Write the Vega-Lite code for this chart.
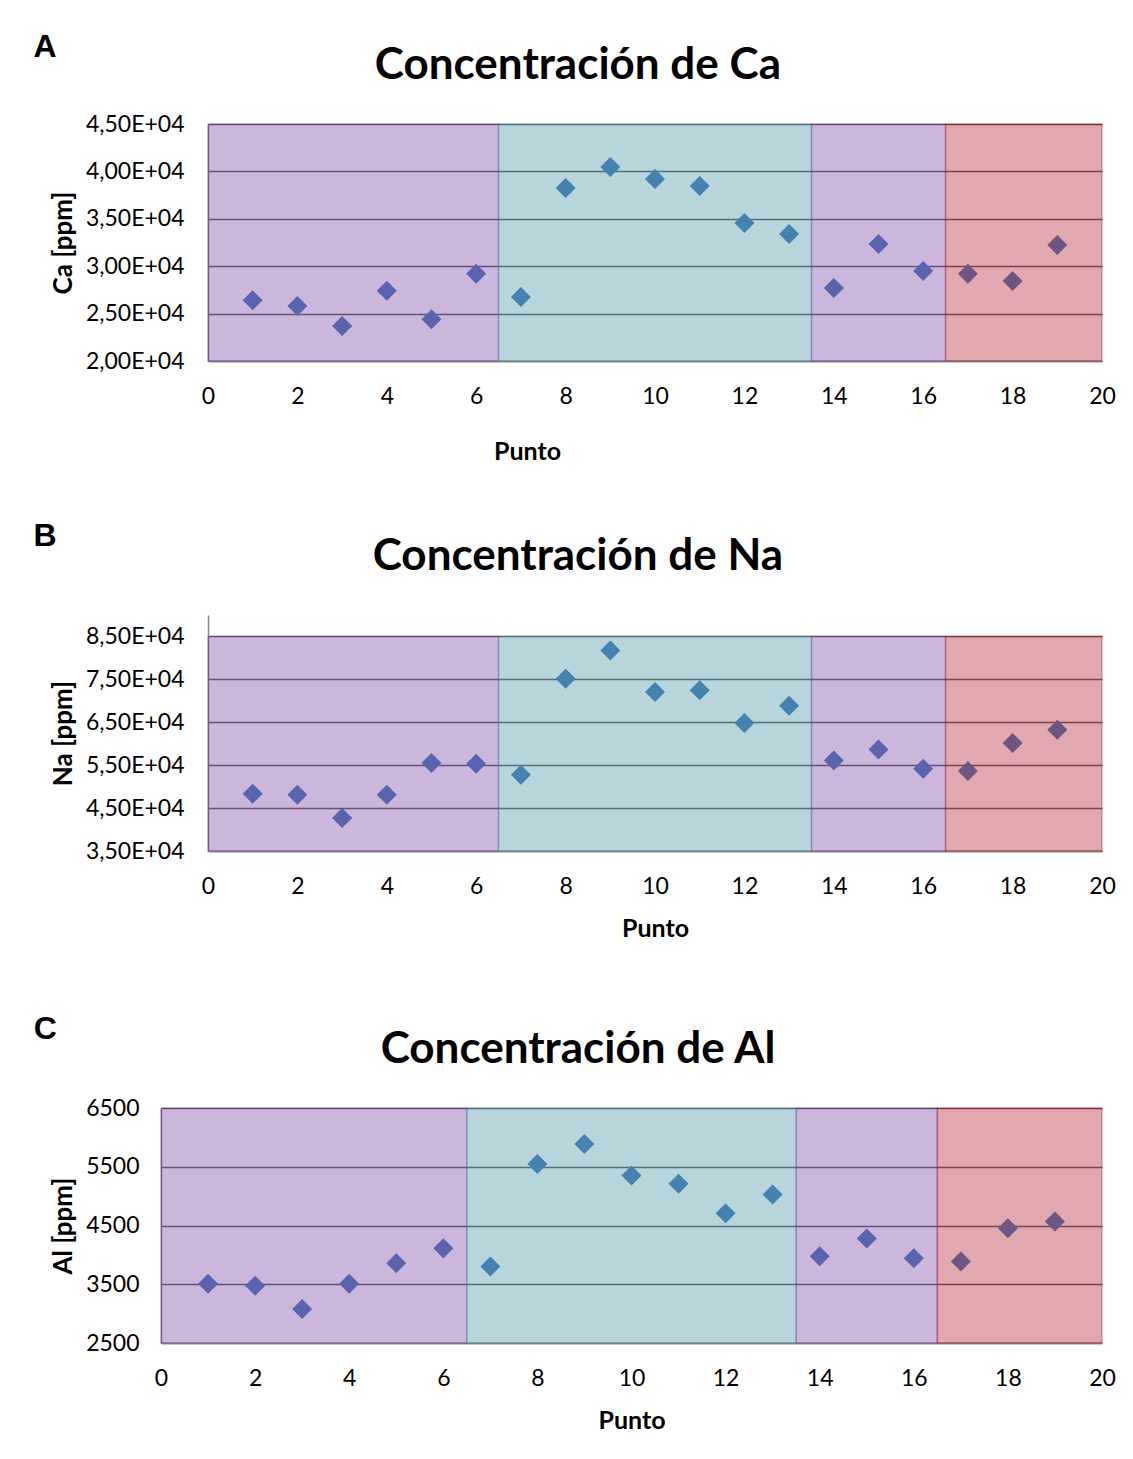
{
  "$schema": "https://vega.github.io/schema/vega-lite/v6.json",
  "padding": {"top": 31, "left": 32, "right": 0, "bottom": 0},
  "background": "white",
  "config": {
    "view": {"stroke": null},
    "font": "Lato",
    "axis": {
      "labelFont": "Lato", "labelFontSize": 23, "labelColor": "#000000",
      "titleFont": "Lato", "titleFontSize": 25, "titleFontWeight": "bold", "titleColor": "#000000",
      "ticks": false, "domainColor": "#868686", "domainWidth": 1.5,
      "gridColor": "#666666", "gridWidth": 1.6, "labelOverlap": false, "labelFlush": false
    },
    "axisX": {"grid": false, "labelPadding": 24, "titlePadding": 18},
    "axisY": {"grid": true, "labelPadding": 24, "titlePadding": 9, "titleFontSize": 26}
  },
  "datasets": {
    "puntos": [
      {"punto": 1, "ca": 26400, "na": 48370, "al": 3509},
      {"punto": 2, "ca": 25800, "na": 48130, "al": 3475},
      {"punto": 3, "ca": 23700, "na": 42690, "al": 3078},
      {"punto": 4, "ca": 27400, "na": 48130, "al": 3509},
      {"punto": 5, "ca": 24400, "na": 55490, "al": 3859},
      {"punto": 6, "ca": 29200, "na": 55350, "al": 4114},
      {"punto": 7, "ca": 26750, "na": 52790, "al": 3803},
      {"punto": 8, "ca": 38250, "na": 75150, "al": 5548},
      {"punto": 9, "ca": 40460, "na": 81740, "al": 5888},
      {"punto": 10, "ca": 39200, "na": 72030, "al": 5350},
      {"punto": 11, "ca": 38460, "na": 72490, "al": 5209},
      {"punto": 12, "ca": 34560, "na": 64810, "al": 4709},
      {"punto": 13, "ca": 33400, "na": 68860, "al": 5027},
      {"punto": 14, "ca": 27700, "na": 56120, "al": 3978},
      {"punto": 15, "ca": 32340, "na": 58680, "al": 4279},
      {"punto": 16, "ca": 29500, "na": 54190, "al": 3944},
      {"punto": 17, "ca": 29200, "na": 53630, "al": 3888},
      {"punto": 18, "ca": 28440, "na": 60150, "al": 4454},
      {"punto": 19, "ca": 32240, "na": 63270, "al": 4568}
    ],
    "zonas": [
      {"desde": 0, "hasta": 6.5, "zona": "a"},
      {"desde": 6.5, "hasta": 13.5, "zona": "b"},
      {"desde": 13.5, "hasta": 16.5, "zona": "a"},
      {"desde": 16.5, "hasta": 20, "zona": "c"}
    ],
    "vacio": [{"v": ""}]
  },
  "spacing": 72,
  "vconcat": [
    {
      "spacing": 56,
      "vconcat": [
        {
          "spacing": 0,
          "hconcat": [
            {"data": {"name": "vacio"}, "width": 1, "height": 1, "mark": {"type": "text", "text": ""}, "encoding": {}},
            {
              "title": {"text": "A", "font": "Liberation Sans", "fontSize": 32, "fontWeight": "bold", "color": "#000000", "anchor": "start", "frame": "bounds", "offset": -20, "dx": -17},
              "vconcat": [
                {
                  "title": {"text": "Concentración de Ca", "font": "Lato", "fontSize": 44, "fontWeight": "bold", "color": "#000000", "anchor": "middle", "frame": "bounds", "offset": 25, "dx": -5},
                  "width": 894, "height": 237,
                  "layer": [
                    {
                      "data": {"name": "puntos"},
                      "mark": {"type": "point", "shape": "diamond", "filled": true, "size": 400, "color": "#4F81BD", "opacity": 1, "strokeWidth": 0},
                      "encoding": {
                        "x": {"field": "punto", "type": "quantitative", "title": "Punto", "scale": {"domain": [0, 20], "nice": false}, "axis": {"values": [0, 2, 4, 6, 8, 10, 12, 14, 16, 18, 20], "titleX": 319, "titlePadding": 31}},
                        "y": {"field": "ca", "type": "quantitative", "title": "Ca [ppm]", "scale": {"domain": [20000, 45000], "nice": false, "zero": false}, "axis": {"values": [20000, 25000, 30000, 35000, 40000, 45000], "labelExpr": "replace(format(datum.value / 10000, '.2f'), '.', ',') + 'E+04'"}}
                      }
                    },
                    {
                      "data": {"name": "zonas"},
                      "mark": {"type": "rect", "fillOpacity": 0.34, "strokeOpacity": 0.3, "strokeWidth": 1.5},
                      "encoding": {
                        "x": {"field": "desde", "type": "quantitative", "title": "Punto"},
                        "x2": {"field": "hasta"},
                        "y": {"datum": 20000, "type": "quantitative", "title": "Ca [ppm]"},
                        "y2": {"datum": 45000},
                        "fill": {"field": "zona", "type": "nominal", "scale": {"domain": ["a", "b", "c"], "range": ["#6C2898", "#2E8398", "#A70017"]}, "legend": null},
                        "stroke": {"field": "zona", "type": "nominal", "scale": {"domain": ["a", "b", "c"], "range": ["#6C2898", "#2E8398", "#A70017"]}, "legend": null}
                      }
                    }
                  ]
                }
              ]
            }
          ]
        },
        {
          "spacing": 0,
          "hconcat": [
            {"data": {"name": "vacio"}, "width": 1, "height": 1, "mark": {"type": "text", "text": ""}, "encoding": {}},
            {
              "title": {"text": "B", "font": "Liberation Sans", "fontSize": 32, "fontWeight": "bold", "color": "#000000", "anchor": "start", "frame": "bounds", "offset": -18, "dx": -17},
              "vconcat": [
                {
                  "title": {"text": "Concentración de Na", "font": "Lato", "fontSize": 44, "fontWeight": "bold", "color": "#000000", "anchor": "middle", "frame": "bounds", "offset": 36, "dx": -5},
                  "width": 894, "height": 236,
                  "layer": [
                    {
                      "data": {"name": "puntos"},
                      "mark": {"type": "point", "shape": "diamond", "filled": true, "size": 400, "color": "#4F81BD", "opacity": 1, "strokeWidth": 0},
                      "encoding": {
                        "x": {"field": "punto", "type": "quantitative", "title": "Punto", "scale": {"domain": [0, 20], "nice": false}, "axis": {"values": [0, 2, 4, 6, 8, 10, 12, 14, 16, 18, 20]}},
                        "y": {"field": "na", "type": "quantitative", "title": "Na [ppm]", "scale": {"domain": [35000, 90000], "nice": false, "zero": false}, "axis": {"values": [35000, 45000, 55000, 65000, 75000, 85000], "labelExpr": "replace(format(datum.value / 10000, '.2f'), '.', ',') + 'E+04'"}}
                      }
                    },
                    {
                      "data": {"name": "zonas"},
                      "mark": {"type": "rect", "fillOpacity": 0.34, "strokeOpacity": 0.3, "strokeWidth": 1.5},
                      "encoding": {
                        "x": {"field": "desde", "type": "quantitative", "title": "Punto"},
                        "x2": {"field": "hasta"},
                        "y": {"datum": 35000, "type": "quantitative", "title": "Na [ppm]"},
                        "y2": {"datum": 85000},
                        "fill": {"field": "zona", "type": "nominal", "scale": {"domain": ["a", "b", "c"], "range": ["#6C2898", "#2E8398", "#A70017"]}, "legend": null},
                        "stroke": {"field": "zona", "type": "nominal", "scale": {"domain": ["a", "b", "c"], "range": ["#6C2898", "#2E8398", "#A70017"]}, "legend": null}
                      }
                    }
                  ]
                }
              ]
            }
          ]
        }
      ]
    },
    {
      "spacing": 0,
      "hconcat": [
        {"data": {"name": "vacio"}, "width": 1, "height": 1, "mark": {"type": "text", "text": ""}, "encoding": {}},
        {
          "title": {"text": "C", "font": "Liberation Sans", "fontSize": 32, "fontWeight": "bold", "color": "#000000", "anchor": "start", "frame": "bounds", "offset": -18, "dx": -17},
          "vconcat": [
            {
              "title": {"text": "Concentración de Al", "font": "Lato", "fontSize": 44, "fontWeight": "bold", "color": "#000000", "anchor": "middle", "frame": "bounds", "offset": 25, "dx": -5},
              "width": 941, "height": 235,
              "layer": [
                {
                  "data": {"name": "puntos"},
                  "mark": {"type": "point", "shape": "diamond", "filled": true, "size": 400, "color": "#4F81BD", "opacity": 1, "strokeWidth": 0},
                  "encoding": {
                    "x": {"field": "punto", "type": "quantitative", "title": "Punto", "scale": {"domain": [0, 20], "nice": false}, "axis": {"values": [0, 2, 4, 6, 8, 10, 12, 14, 16, 18, 20]}},
                    "y": {"field": "al", "type": "quantitative", "title": "Al [ppm]", "scale": {"domain": [2500, 6500], "nice": false, "zero": false}, "axis": {"values": [2500, 3500, 4500, 5500, 6500], "format": "d", "labelPadding": 22}}
                  }
                },
                {
                  "data": {"name": "zonas"},
                  "mark": {"type": "rect", "fillOpacity": 0.34, "strokeOpacity": 0.3, "strokeWidth": 1.5},
                  "encoding": {
                    "x": {"field": "desde", "type": "quantitative", "title": "Punto"},
                    "x2": {"field": "hasta"},
                    "y": {"datum": 2500, "type": "quantitative", "title": "Al [ppm]"},
                    "y2": {"datum": 6500},
                    "fill": {"field": "zona", "type": "nominal", "scale": {"domain": ["a", "b", "c"], "range": ["#6C2898", "#2E8398", "#A70017"]}, "legend": null},
                    "stroke": {"field": "zona", "type": "nominal", "scale": {"domain": ["a", "b", "c"], "range": ["#6C2898", "#2E8398", "#A70017"]}, "legend": null}
                  }
                }
              ]
            }
          ]
        }
      ]
    }
  ]
}
